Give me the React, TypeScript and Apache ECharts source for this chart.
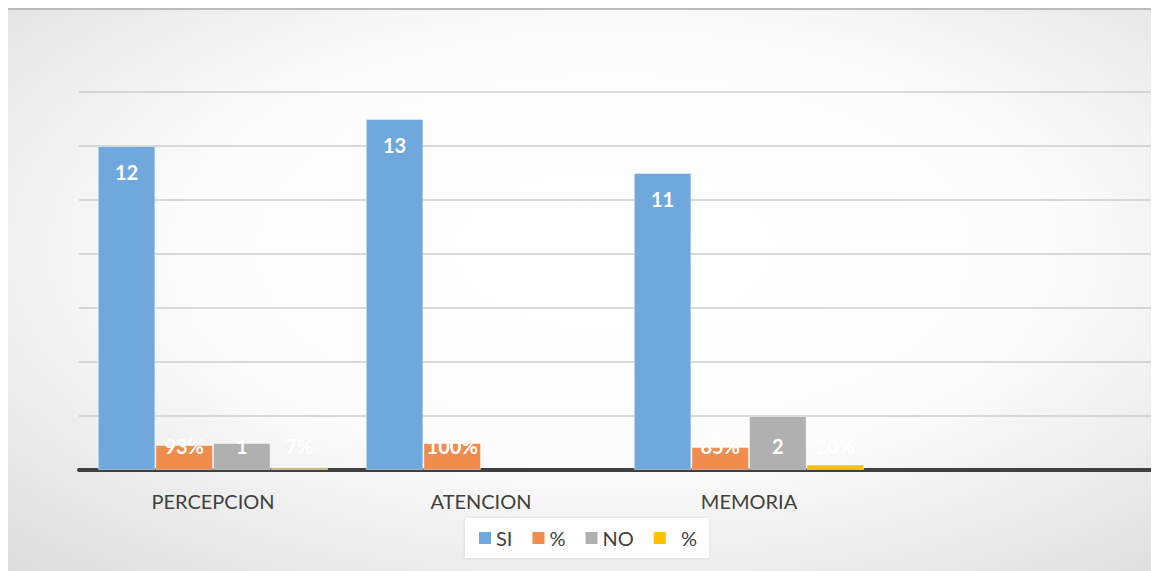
import React, { useEffect, useRef } from "react";
import * as echarts from "echarts";

const categories = ["PERCEPCION", "ATENCION", "MEMORIA", ""];
const seriesNames = ["SI", "%", "NO", "\u00a0\u00a0%"];
const siValues = [12, 13, 11, null];
const siPct = [0.93, 1.0, 0.85, null];
const noValues = [1, 0, 2, null];
const noPct = [0.07, 0, 0.2, null];
const siLabels = ["12", "13", "11", ""];
const siPctLabels = ["93%", "100%", "85%", ""];
const noLabels = ["1", "", "2", ""];
const noPctLabels = ["7%", "", "20%", ""];
const colors = ["#6fa8dc", "#f08d4e", "#b0b0b0", "#ffc000"];

const FONT = "Lato, 'Open Sans', sans-serif";

function makeSeries(name: string, values: (number | null)[], labels: string[], color: string) {
  return {
    name,
    type: "bar",
    barGap: "0%",
    barCategoryGap: "14%",
    itemStyle: { color },
    data: values.map((v, i) => ({
      value: v,
      itemStyle: {
        color,
        borderColor: "rgba(255,255,255,0.45)",
        borderWidth: v ? 1 : 0,
      },
      label: {
        show: labels[i] !== "",
        formatter: () => labels[i],
        position: v !== null && v >= 3 ? "insideTop" : "insideBottom",
        distance: v !== null && v >= 3 ? 16 : 14,
        color: "#ffffff",
        fontWeight: "bold",
        fontSize: 20,
        fontFamily: FONT,
      },
    })),
  };
}

export default function App() {
  const ref = useRef<HTMLDivElement>(null);
  useEffect(() => {
    if (!ref.current) return;
    const chart = echarts.init(ref.current, null, { renderer: "svg" });
    chart.setOption({
      animation: false,
      backgroundColor: {
        type: "radial",
        x: 0.53,
        y: 0.43,
        r: 1.15,
        colorStops: [
          { offset: 0, color: "#ffffff" },
          { offset: 0.33, color: "#fcfcfc" },
          { offset: 1, color: "#bfbfbf" },
        ],
      },
      graphic: [
        {
          type: "line",
          shape: { x1: 0, y1: 1, x2: 1143, y2: 1 },
          style: { stroke: "#bcbcbc", lineWidth: 2 },
        },
      ],
      grid: { left: 71, right: 0, top: 84, bottom: 101 },
      legend: {
        left: 457,
        top: 510,
        padding: [10, 12, 10, 14],
        backgroundColor: "#ffffff",
        shadowColor: "rgba(0,0,0,0.12)",
        shadowBlur: 3,
        icon: "rect",
        itemWidth: 12,
        itemHeight: 12,
        itemGap: 20,
        textStyle: { fontSize: 20, color: "#404040", fontFamily: FONT },
        data: seriesNames,
      },
      xAxis: {
        type: "category",
        data: categories,
        axisLine: { lineStyle: { color: "#404040", width: 4 } },
        axisTick: { show: false },
        axisLabel: { fontSize: 20, color: "#404040", fontFamily: FONT, margin: 21 },
      },
      yAxis: {
        type: "value",
        min: 0,
        max: 14,
        interval: 2,
        axisLabel: { show: false },
        axisLine: { show: false },
        axisTick: { show: false },
        splitLine: { lineStyle: { color: "#cccccc", width: 1.5 } },
      },
      series: [
        makeSeries(seriesNames[0], siValues, siLabels, colors[0]),
        makeSeries(seriesNames[1], siPct, siPctLabels, colors[1]),
        makeSeries(seriesNames[2], noValues, noLabels, colors[2]),
        makeSeries(seriesNames[3], noPct, noPctLabels, colors[3]),
      ],
    });
    return () => chart.dispose();
  }, []);
  return (
    <div
      ref={ref}
      style={{ position: "absolute", left: 8, top: 8, width: 1143, height: 563 }}
    />
  );
}
